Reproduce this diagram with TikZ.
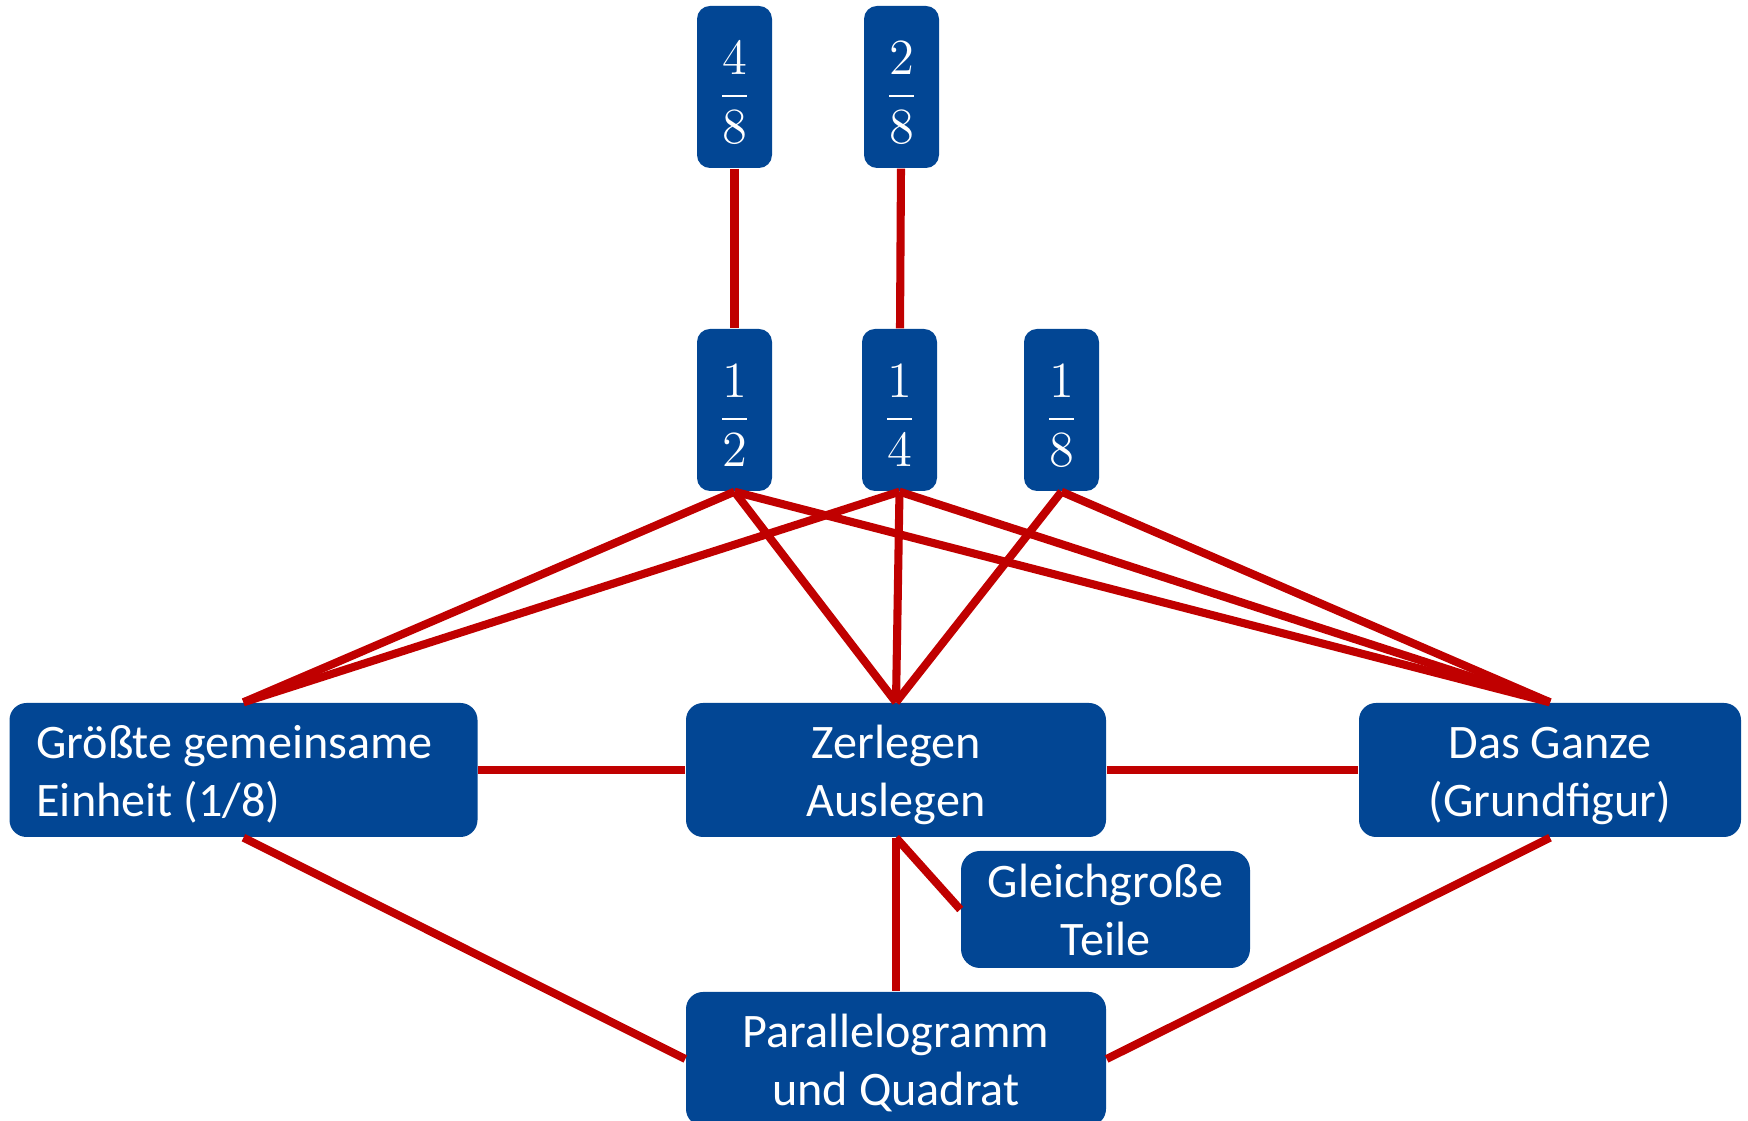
\documentclass[tikz,border=0pt]{standalone}
\usepackage{fontspec}
\usepackage{amsmath}
\newfontfamily\calibri{Carlito}
\usetikzlibrary{positioning}
\definecolor{boxblue}{RGB}{2,70,148}
\definecolor{linered}{RGB}{192,0,0}
\newcommand{\boxtext}[2][c]{\raisebox{-0.055cm}[\height][\depth]{\begin{tabular}{@{}#1@{}}#2\end{tabular}}}

\begin{document}
\begin{tikzpicture}[
    frac/.style={fill=boxblue, text=white, rounded corners=0.13cm, minimum width=0.75cm, minimum height=1.62cm, inner sep=0pt, font=\fontsize{14}{16}\selectfont},
    topic/.style={fill=boxblue, text=white, rounded corners=0.17cm, minimum height=1.34cm, inner sep=0pt, font=\calibri\fontsize{13.7}{16.5}\selectfont},
    link/.style={draw=linered, line width=2.3pt}]
    \useasboundingbox (0,0) rectangle (17.48,-11.21);
    %nodes
    \node[frac] (f48) at (7.345, -0.87) {\raisebox{-0.06cm}[\height][\depth]{$\dfrac{4}{8}$}};
    \node[frac] (f28) at (9.015, -0.87) {\raisebox{-0.06cm}[\height][\depth]{$\dfrac{2}{8}$}};
    \node[frac] (f12) at (7.345, -4.10) {\raisebox{-0.06cm}[\height][\depth]{$\dfrac{1}{2}$}};
    \node[frac] (f14) at (8.995, -4.10) {\raisebox{-0.06cm}[\height][\depth]{$\dfrac{1}{4}$}};
    \node[frac] (f18) at (10.615, -4.10) {\raisebox{-0.06cm}[\height][\depth]{$\dfrac{1}{8}$}};
    \node[topic, minimum width=4.68cm] (gge) at (2.435, -7.70) {\makebox[4.14cm][l]{\boxtext[l]{Größte gemeinsame\\Einheit (1/8)}}};
    \node[topic, minimum width=4.20cm] (zer) at (8.96, -7.70) {\boxtext{Zerlegen\\Auslegen}};
    \node[topic, minimum width=3.82cm] (ganz) at (15.50, -7.70) {\boxtext{Das Ganze\\(Grundfigur)}};
    \node[topic, minimum width=2.89cm, minimum height=1.17cm, rounded corners=0.19cm] (gleich) at (11.055, -9.095) {\boxtext{Gleichgroße\\Teile}};
    \node[topic, minimum width=4.20cm] (para) at (8.96, -10.59) {\boxtext{Parallelogramm\\und Quadrat}};
    %edges
    \path [link] (f48) -- (f12);
    \path [link] (f28) -- (f14);
    \path [link] (f12.south) -- (gge.north);
    \path [link] (f12.south) -- (zer.north);
    \path [link] (f12.south) -- (ganz.north);
    \path [link] (f14.south) -- (gge.north);
    \path [link] (f14.south) -- (zer.north);
    \path [link] (f14.south) -- (ganz.north);
    \path [link] (f18.south) -- (zer.north);
    \path [link] (f18.south) -- (ganz.north);
    \path [link] (gge) -- (zer);
    \path [link] (zer) -- (ganz);
    \path [link] (zer.south) -- (gleich.west);
    \path [link] (zer.south) -- (para.north);
    \path [link] (gge.south) -- (para.west);
    \path [link] (ganz.south) -- (para.east);
\end{tikzpicture}
\end{document}
